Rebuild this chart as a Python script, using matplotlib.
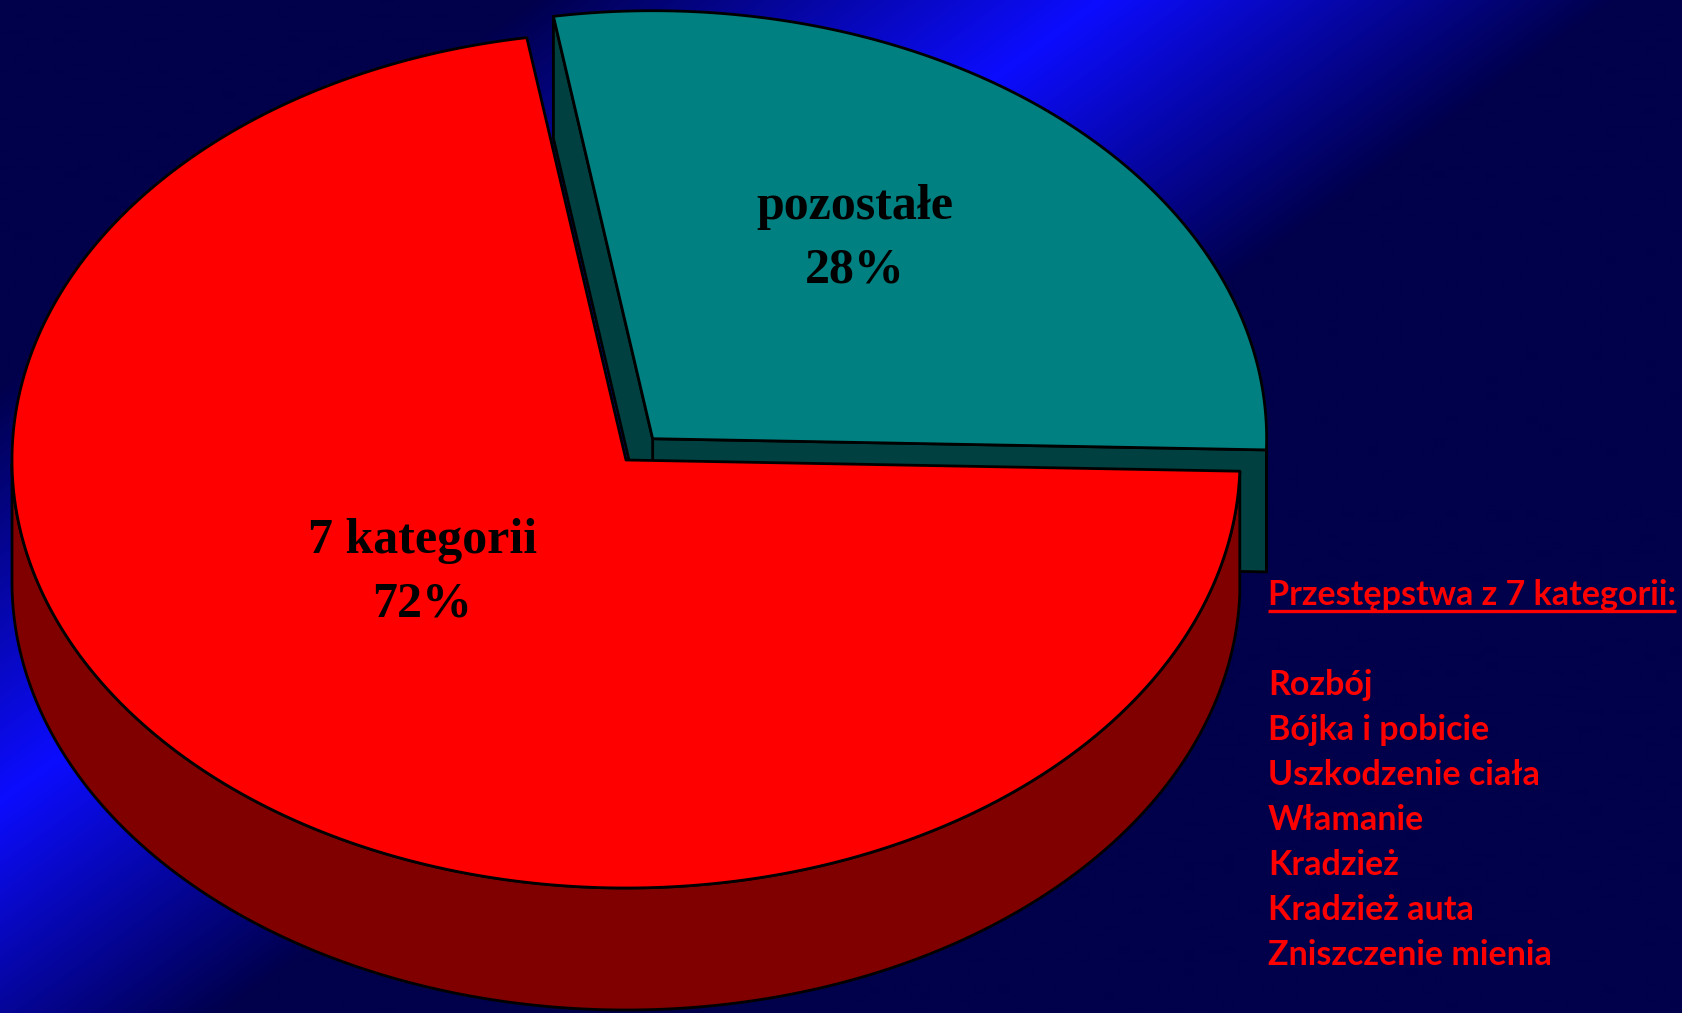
import numpy as np
import matplotlib.pyplot as plt
from matplotlib.patches import Polygon

# data
labels = ['pozostałe', '7 kategorii']
shares = [28, 72]
top_colors = ['#008080', '#FF0000']
side_colors = ['#004040', '#800000']
explode = [0.066, 0.0]
# label placement as fraction of the radius (x, y)
label_r = [(0.50, 0.62), (0.505, 0.35)]

legend_title = 'Przestępstwa z 7 kategorii:'
legend_items = ['Rozbój', 'Bójka i pobicie', 'Uszkodzenie ciała', 'Włamanie',
                'Kradzież', 'Kradzież auta', 'Zniszczenie mienia']

W, H = 1683, 1013
fig = plt.figure(figsize=(W / 100, H / 100), dpi=100)
ax = fig.add_axes([0, 0, 1, 1])

# diagonal background band
yy, xx = np.mgrid[0:H:2, 0:W:2]
u = xx / 1100 + yy / 800
t = np.interp(u, [0, 0.48, 1.0, 1.47, 3], [0, 0, 1, 0, 0])
dark = np.array([0, 0, 75]) / 255
bright = np.array([12, 12, 255]) / 255
bg = dark + t[..., None] * (bright - dark)
ax.imshow(bg, extent=[0, W, H, 0], zorder=0, interpolation='bilinear')
ax.set_aspect('auto')
ax.set_xlim(0, W)
ax.set_ylim(H, 0)
ax.axis('off')

# pseudo 3d pie
cx, cy = 626, 460
rx, ry = 614, 428
depth = 122
start = -1.5


def pts(angles, ox, oy, dz=0):
    a = np.radians(angles)
    return np.column_stack([ox + rx * np.cos(a), oy - ry * np.sin(a) + dz])


theta = start
for lab, sh, ctop, cside, ex, lr in zip(labels, shares, top_colors, side_colors,
                                        explode, label_r):
    t1, t2 = theta, theta + 360 * sh / 100
    theta = t2
    mid = np.radians((t1 + t2) / 2)
    ox = cx + ex * rx * np.cos(mid)
    oy = cy - ex * ry * np.sin(mid)

    # radial walls facing the viewer
    for edge, vis in [(t1, np.cos(np.radians(t1)) > 0), (t2, np.cos(np.radians(t2)) < 0)]:
        if vis:
            p = pts([edge], ox, oy)[0]
            quad = [(ox, oy), p, (p[0], p[1] + depth), (ox, oy + depth)]
            ax.add_patch(Polygon(quad, closed=True, fc=cside, ec='black', lw=2,
                                 joinstyle='round', zorder=2))

    # outer wall, front part only
    aa = np.linspace(t1, t2, 400)
    front = aa[np.sin(np.radians(aa)) <= 0]
    if len(front) > 1:
        top = pts(front, ox, oy)
        bot = pts(front, ox, oy, depth)[::-1]
        ax.add_patch(Polygon(np.vstack([top, bot]), closed=True, fc=cside, ec='black',
                             lw=2, joinstyle='round', zorder=2))

    # top face
    face = np.vstack([[ox, oy], pts(aa, ox, oy)])
    ax.add_patch(Polygon(face, closed=True, fc=ctop, ec='black', lw=2,
                         joinstyle='round', zorder=3))

    lx = ox + lr[0] * rx * np.cos(mid)
    ly = oy - lr[1] * ry * np.sin(mid)
    ax.text(lx, ly, f'{lab}\n{sh}%', ha='center', va='center', fontsize=36,
            fontweight='bold', family='Liberation Serif', color='black',
            linespacing=1.5, zorder=5)

# text block on the right
tx = 1268
title = ax.text(tx, 605, legend_title, ha='left', va='baseline', fontsize=24.5,
                fontweight='bold', family='Lato', color='#FF0000', zorder=5)
fig.canvas.draw()
bb = title.get_window_extent().transformed(ax.transData.inverted())
ax.plot([bb.x0, bb.x1], [611, 611], color='#FF0000', lw=2.4,
        solid_capstyle='butt', zorder=5)

for i, item in enumerate(legend_items):
    ax.text(tx, 695 + 45 * i, item, ha='left', va='baseline', fontsize=24.5,
            fontweight='bold', family='Lato', color='#FF0000', zorder=5)

fig.savefig('out.png', dpi=100)
